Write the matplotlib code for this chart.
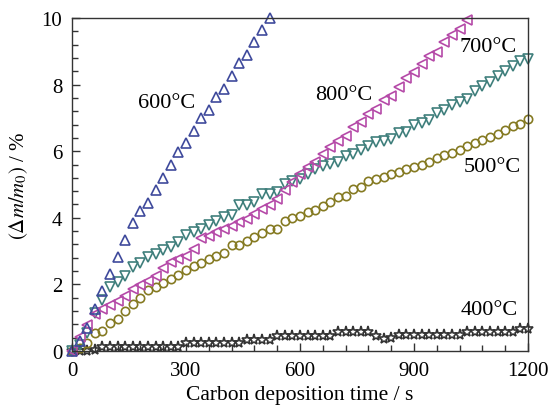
import matplotlib
matplotlib.use("Agg")
import matplotlib.pyplot as plt
from matplotlib.ticker import MultipleLocator

plt.rcParams['font.family'] = ['Liberation Serif', 'DejaVu Serif']
plt.rcParams['mathtext.fontset'] = 'stix'

# time axis, one reading every 20 s
t_full = list(range(0, 1201, 20))
t_600 = list(range(0, 521, 20))
t_800 = list(range(0, 1041, 20))

y_400 = [0.0, 0.0, 0.01, 0.03, 0.12, 0.12, 0.12, 0.12, 0.12, 0.12, 0.12, 0.12, 0.12, 0.12, 0.13,
         0.24, 0.24, 0.24, 0.24, 0.24, 0.24, 0.24, 0.24, 0.33, 0.33, 0.33, 0.33, 0.46, 0.46, 0.46,
         0.46, 0.46, 0.46, 0.46, 0.46, 0.57, 0.57, 0.57, 0.57, 0.57, 0.45, 0.37, 0.38, 0.47, 0.47,
         0.47, 0.47, 0.47, 0.47, 0.47, 0.47, 0.47, 0.57, 0.57, 0.57, 0.57, 0.57, 0.57, 0.57, 0.66, 0.67]

y_500 = [0.0, 0.1, 0.25, 0.53, 0.6, 0.84, 0.96, 1.21, 1.4, 1.58, 1.82, 1.92, 2.03, 2.15, 2.28,
         2.43, 2.54, 2.64, 2.76, 2.86, 2.94, 3.18, 3.19, 3.31, 3.41, 3.54, 3.66, 3.67, 3.9, 3.99,
         4.05, 4.17, 4.24, 4.36, 4.48, 4.62, 4.65, 4.86, 4.92, 5.11, 5.17, 5.22, 5.32, 5.38, 5.45,
         5.53, 5.6, 5.68, 5.79, 5.88, 5.96, 6.05, 6.17, 6.24, 6.33, 6.44, 6.52, 6.65, 6.76, 6.82, 6.97]

y_600 = [0.0, 0.3, 0.68, 1.25, 1.8, 2.3, 2.83, 3.33, 3.83, 4.2, 4.45, 4.83, 5.2, 5.59, 5.97,
         6.24, 6.61, 7.0, 7.24, 7.62, 7.88, 8.25, 8.64, 8.89, 9.27, 9.64, 10.0]

y_700 = [0.0, 0.18, 0.55, 1.15, 1.52, 1.91, 2.06, 2.26, 2.51, 2.63, 2.83, 2.91, 3.04, 3.11, 3.26,
         3.48, 3.58, 3.66, 3.78, 3.91, 4.01, 4.08, 4.38, 4.38, 4.48, 4.71, 4.71, 4.76, 5.01, 5.11,
         5.17, 5.3, 5.45, 5.56, 5.62, 5.68, 5.86, 5.92, 6.05, 6.15, 6.27, 6.32, 6.37, 6.55, 6.57,
         6.79, 6.85, 6.95, 7.15, 7.25, 7.39, 7.47, 7.57, 7.82, 7.95, 8.08, 8.25, 8.42, 8.57, 8.7, 8.78]

y_800 = [0.0, 0.41, 0.78, 1.12, 1.26, 1.37, 1.5, 1.64, 1.87, 1.97, 2.1, 2.24, 2.5, 2.66, 2.76,
         2.86, 3.06, 3.38, 3.46, 3.56, 3.66, 3.76, 3.86, 3.96, 4.11, 4.26, 4.38, 4.56, 4.83, 5.08,
         5.3, 5.52, 5.67, 5.92, 6.12, 6.32, 6.47, 6.72, 6.87, 7.12, 7.27, 7.55, 7.67, 7.92, 8.2,
         8.37, 8.62, 8.85, 8.97, 9.29, 9.49, 9.68, 9.95]

fig = plt.figure(figsize=(5.55, 4.1), dpi=100)
ax = fig.add_axes([0.1297, 0.1415, 0.8217, 0.8122])

kw = dict(linestyle='none', markerfacecolor='none', markeredgewidth=1.2, clip_on=False)
ax.plot(t_full, y_400, marker='*', markersize=8, color='#333333', **kw)
ax.plot(t_full, y_500, marker='o', markersize=6, color='#857a22', **kw)
ax.plot(t_full, y_700, marker='v', markersize=7, color='#3f7f7c', **kw)
ax.plot(t_800, y_800, marker='<', markersize=7, color='#b54aa8', **kw)
ax.plot(t_600, y_600, marker='^', markersize=7, color='#3f4a9c', **kw)

ax.set_xlim(0, 1200)
ax.set_ylim(0, 10)
ax.xaxis.set_major_locator(MultipleLocator(300))
ax.xaxis.set_minor_locator(MultipleLocator(60))
ax.yaxis.set_major_locator(MultipleLocator(2))
ax.yaxis.set_minor_locator(MultipleLocator(0.4))
ax.tick_params(which='both', direction='in', top=False, right=False,
               labelsize=15, color='#333333')
ax.tick_params(which='major', length=6, width=1, pad=7)
ax.tick_params(which='minor', length=4, width=1)
for s in ax.spines.values():
    s.set_color('#333333')
    s.set_linewidth(1)

ax.set_xlabel('Carbon deposition time / s', fontsize=15.5, labelpad=4)
ax.set_ylabel(r'$(\Delta m/m_0)$ / %', fontsize=15, labelpad=8)

ax.text(250, 7.45, '600°C', fontsize=16, ha='center', va='center')
ax.text(715, 7.7, '800°C', fontsize=16, ha='center', va='center')
ax.text(1095, 9.15, '700°C', fontsize=16, ha='center', va='center')
ax.text(1105, 5.55, '500°C', fontsize=16, ha='center', va='center')
ax.text(1098, 1.25, '400°C', fontsize=16, ha='center', va='center')

fig.savefig('out.png', dpi=100)
